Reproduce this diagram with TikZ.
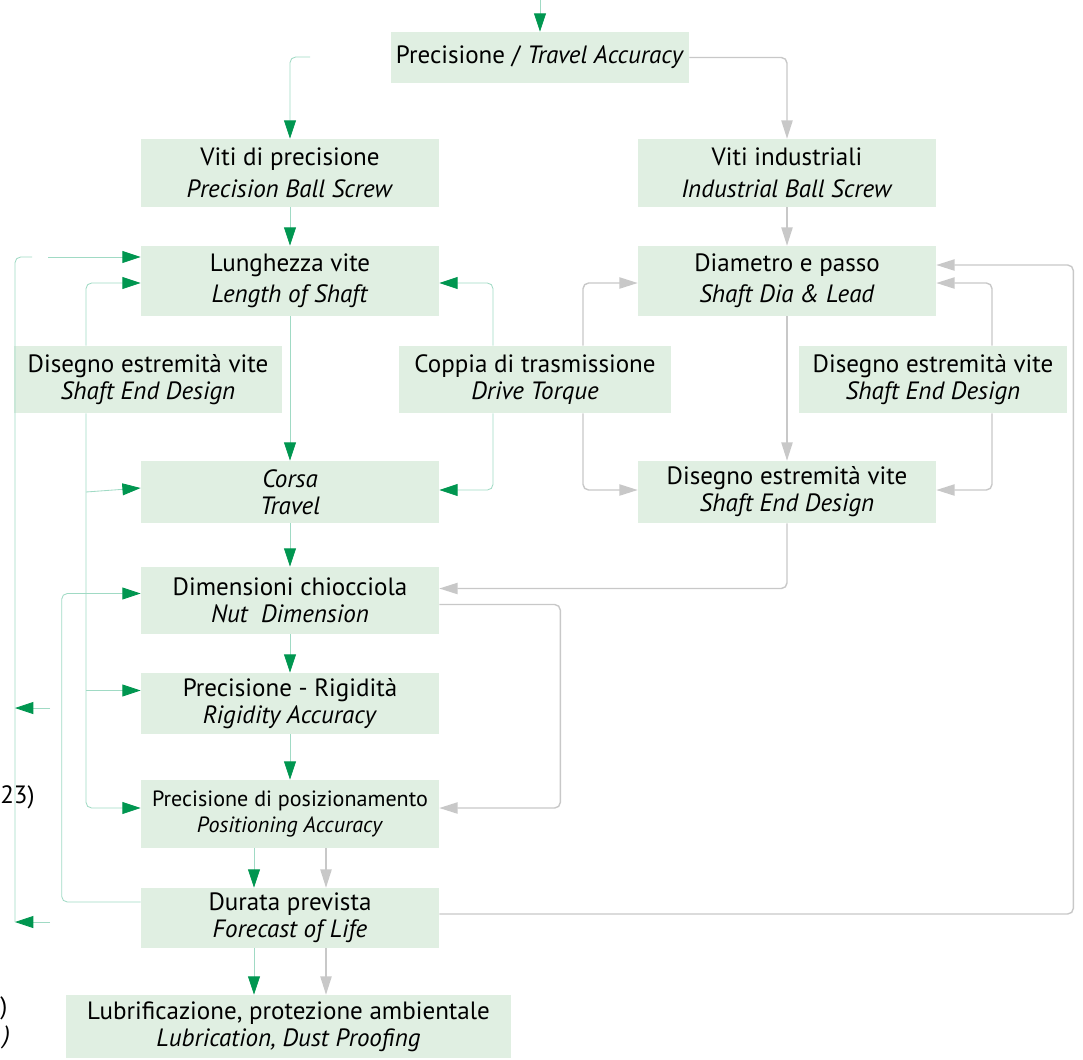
\documentclass[tikz,border=0pt]{standalone}
\usepackage{fontspec}
\setmainfont{PT Sans}
\usetikzlibrary{arrows.meta,calc}

\definecolor{boxfill}{RGB}{224,239,226}
\definecolor{linegreen}{RGB}{160,218,196}
\definecolor{tipgreen}{RGB}{0,150,80}
\definecolor{linegray}{RGB}{200,200,200}

\tikzset{
	box/.style={fill=boxfill, align=center, inner sep=0pt, minimum width=7.45cm,
		font=\fontsize{17.8}{19.3}\selectfont},
	greenarr/.style={draw=linegreen, line width=0.6pt, rounded corners=4pt,
		-{Triangle[length=13pt, width=8.5pt, color=tipgreen]}},
	greenline/.style={draw=linegreen, line width=0.6pt, rounded corners=4pt},
	grayarr/.style={draw=linegray, line width=1pt, rounded corners=4pt,
		-{Triangle[length=13pt, width=8pt, color=linegray]}},
	fragment/.style={anchor=west, inner sep=0pt, font=\fontsize{17.8}{19.3}\selectfont}
}

\begin{document}
\begin{tikzpicture}[x=0.025cm, y=-0.025cm]
	\useasboundingbox (0,0) rectangle (1083,1059);

	\node[box, minimum height=1.275cm] (accuracy) at (540,57.5) {Precisione / \textit{Travel Accuracy}};
	\node[box, minimum height=1.7cm] (precision) at (290,173) {Viti di precisione\\[3.5pt]\textit{Precision Ball Screw}};
	\node[box, minimum height=1.7cm] (industrial) at (787,173) {Viti industriali\\[3.5pt]\textit{Industrial Ball Screw}};
	\node[box, minimum height=1.75cm] (length) at (290,281) {Lunghezza vite\\[2.5pt]\textit{Length of Shaft}};
	\node[box, minimum height=1.75cm] (diameter) at (787,281) {Diametro e passo\\[2.5pt]\textit{Shaft Dia \& Lead}};
	\node[box, minimum width=6.7cm, minimum height=1.675cm] (endleft) at (148,379.5) {Disegno estremità vite\\\textit{Shaft End Design}};
	\node[box, minimum width=6.8cm, minimum height=1.675cm] (torque) at (535,379.5) {Coppia di trasmissione\\\textit{Drive Torque}};
	\node[box, minimum width=6.7cm, minimum height=1.675cm] (endright) at (933,379.5) {Disegno estremità vite\\\textit{Shaft End Design}};
	\node[box, minimum height=1.55cm] (travel) at (290,492) {\textit{Corsa}\\\textit{Travel}};
	\node[box, minimum height=1.55cm] (endlow) at (787,492) {Disegno estremità vite\\\textit{Shaft End Design}};
	\node[box, minimum height=1.675cm] (nut) at (290,600.5) {Dimensioni chiocciola\\\textit{Nut\ \ Dimension}};
	\node[box, minimum height=1.525cm] (rigidity) at (290,703.5) {Precisione - Rigidità\\\textit{Rigidity Accuracy}};
	\node[box, minimum height=1.7cm, font=\fontsize{15.7}{18.7}\selectfont] (positioning) at (290,814) {Precisione di posizionamento\\\textit{Positioning Accuracy}};
	\node[box, minimum height=1.5cm] (life) at (290,918) {Durata prevista\\\textit{Forecast of Life}};
	\node[box, minimum width=11.125cm, minimum height=1.575cm] (lubrication) at (288.5,1026.5) {Lubrificazione, protezione ambientale\\\textit{Lubrication, Dust Proofing}};

	\node[fragment] (pagref) at (0,797) {23)};
	\node[fragment] (fragA) at (0,1008) {)};
	\node[fragment] (fragB) at (3,1037) {\textit{)}};

	\coordinate (topin) at (540,0);
	\coordinate (precin) at (310,57);
	\coordinate (loopfoot) at (15,922);
	\coordinate (loopgap) at (32,257);
	\coordinate (loophead) at (48,257);
	\coordinate (backA) at (50,708);
	\coordinate (backB) at (50,922);
	\coordinate (elT) at ($(endleft.north)+(-62,0)$);
	\coordinate (elB) at ($(endleft.south)+(-62,0)$);
	\coordinate (lifeG) at ($(life.south)+(-36,0)$);
	\coordinate (lifeR) at ($(life.south)+(36,0)$);

	\draw[greenarr] (topin) -- (accuracy.north);
	\draw[greenarr] (precin) -| (precision.north);
	\draw[greenarr] (precision) -- (length);
	\draw[greenarr] (length) -- (travel);
	\draw[greenarr] (travel) -- (nut);
	\draw[greenarr] (nut) -- (rigidity);
	\draw[greenarr] (rigidity) -- (positioning);
	\draw[greenarr] ($(positioning.south)+(-36,0)$) -- ($(life.north)+(-36,0)$);
	\draw[grayarr] ($(positioning.south)+(36,0)$) -- ($(life.north)+(36,0)$);
	\draw[greenarr] (lifeG) -- (lifeG |- lubrication.north);
	\draw[grayarr] (lifeR) -- (lifeR |- lubrication.north);

	\draw[greenline] (loopfoot) |- (loopgap);
	\draw[greenarr] (loophead) -- (loophead -| length.west);
	\draw[greenarr] (backA) -- (backA -| loopfoot);
	\draw[greenarr] (backB) -- (loopfoot);

	\draw[greenarr] (elT) |- ($(length.west)+(0,2)$);
	\draw[greenarr] (elB) |- ($(positioning.west)+(0,-6)$);
	\draw[greenarr] (elB |- travel.west) -- ($(travel.west)+(0,-4)$);
	\draw[greenarr] ($(elB |- rigidity.west)+(0,-13)$) -- ($(rigidity.west)+(0,-13)$);
	\draw[greenarr] ($(life.west)+(0,-16)$) -- ++(-79,0) |- ($(nut.west)+(0,-7)$);

	\draw[greenarr] ($(torque.north)+(-42,0)$) |- ($(length.east)+(0,2)$);
	\draw[greenarr] ($(torque.south)+(-42,0)$) |- ($(travel.east)+(0,-2)$);
	\draw[grayarr] ($(torque.north)+(48,0)$) |- ($(diameter.west)+(0,2)$);
	\draw[grayarr] ($(torque.south)+(48,0)$) |- ($(endlow.west)+(0,-2)$);

	\draw[grayarr] (accuracy.east) -| (industrial.north);
	\draw[grayarr] (industrial) -- (diameter);
	\draw[grayarr] (diameter) -- (endlow);
	\draw[grayarr] ($(endright.north)+(59,0)$) |- ($(diameter.east)+(0,2)$);
	\draw[grayarr] ($(endright.south)+(59,0)$) |- ($(endlow.east)+(0,-2)$);
	\draw[grayarr] (endlow.south) |- ($(nut.east)+(0,-12)$);
	\draw[grayarr] ($(nut.east)+(0,4)$) -- ++(121,0) |- ($(positioning.east)+(0,-6)$);
	\draw[grayarr] ($(life.east)+(0,-4)$) -- ++(634,0) |- ($(diameter.east)+(0,-16)$);
\end{tikzpicture}
\end{document}
